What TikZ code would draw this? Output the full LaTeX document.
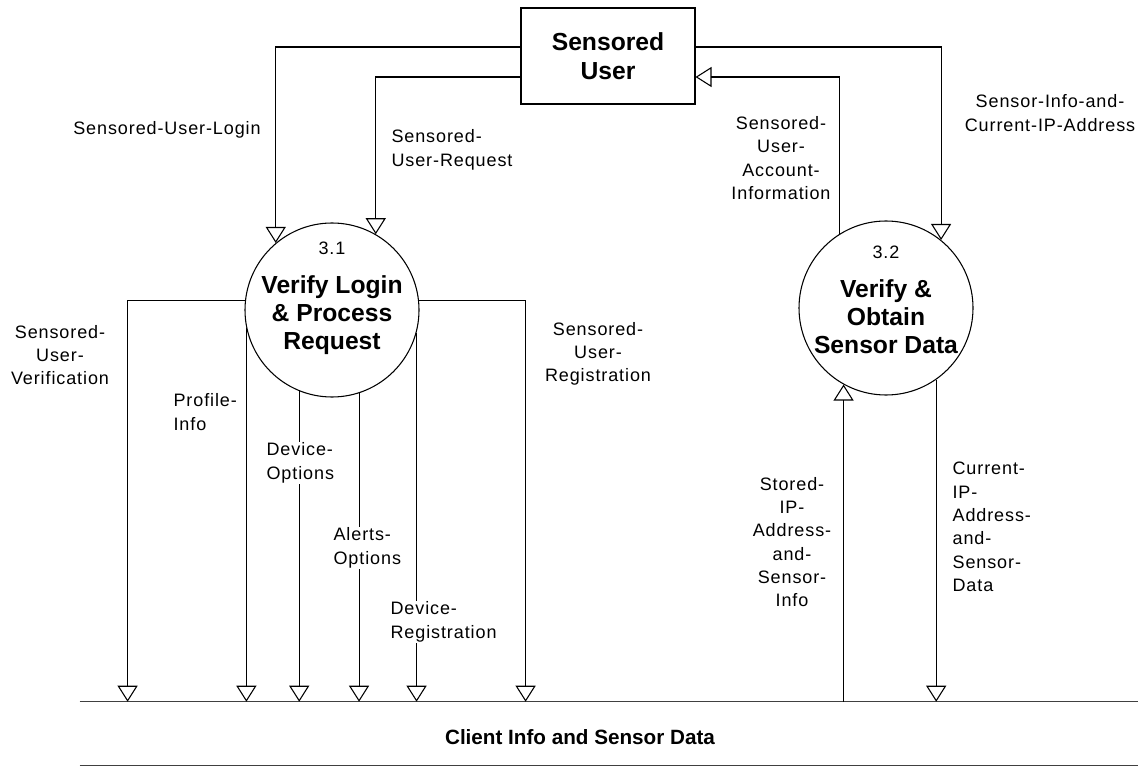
\documentclass[tikz,border=0pt]{standalone}
\usepackage{fontspec}
\setmainfont{Liberation Sans}
\newfontfamily\flowfont[LetterSpace=5]{Liberation Sans}
\usetikzlibrary{arrows.meta, calc}

\begin{document}
\begin{tikzpicture}[x = 0.75pt, y = -0.75pt,
                    flow/.style    = {draw, line width=0.8pt, -{Triangle[open, length=12pt, width=15pt]}},
                    entity/.style  = {draw, line width=0.8pt, minimum width=130.5pt, minimum height=72pt,
                                      align=center, font=\fontsize{18.5}{21.75}\selectfont\bfseries},
                    process/.style = {draw, circle, line width=0.8pt, minimum size=130.5pt, inner sep=0pt},
                    ptitle/.style  = {align=center, font=\fontsize{18.5}{21}\selectfont\bfseries},
                    pnum/.style    = {font=\flowfont\fontsize{13.5}{17.5}\selectfont},
                    flowlbl/.style = {fill=white, inner sep=1pt, font=\flowfont\fontsize{13.5}{17.5}\selectfont},
                    storeline/.style = {draw=black!75, line width=0.9pt}]

    \useasboundingbox (0,0) rectangle (1138,766);

    % external entity and processes
    \node[entity]  (user) at (608,56) {Sensored\\User};
    \node[process] (p31)  at (332,310) {};
    \node[pnum]    (p31n) at (332,248) {3.1};
    \node[ptitle]  (p31t) at (332,315) {Verify Login\\\& Process\\Request};
    \node[process] (p32)  at (886,308) {};
    \node[pnum]    (p32n) at (886,252) {3.2};
    \node[ptitle]  (p32t) at (886,317) {Verify \&\\Obtain\\Sensor Data};

    % data store
    \node[minimum width=793.5pt, minimum height=47.25pt, inner sep=0pt] (store) at (609,733.5) {};
    \draw[storeline] (store.north west) -- (store.north east)
                     (store.south west) -- (store.south east);
    \node[font=\fontsize{15.5}{18}\selectfont\bfseries] (storet) at (580,737) {Client Info and Sensor Data};

    % flows
    \draw[flow] (user.west |- 0,47) -| (p31.130);
    \draw[flow] (user.west |- 0,77) -| (p31.60);
    \draw[flow] (user.east |- 0,47) -| (p32.51);
    \draw[flow] (p32.122) |- (user.east |- 0,77);

    \draw[flow] (p31.174) -| (store.north -| 127.6,0);
    \foreach \a in {192,248,288,345}
        \draw[flow] (p31.\a) -- (p31.\a |- store.north);
    \draw[flow] (p31.6) -| (store.north -| 525.6,0);

    \draw[flow] (store.north -| p32.241) -- (p32.241);
    \draw[flow] (p32.305) -- (p32.305 |- store.north);

    % flow labels
    \node[flowlbl] (lLogin) at (167,130) {Sensored-User-Login};
    \node[flowlbl, align=left] (lReq) at (452,150) {Sensored-\\User-Request};
    \node[flowlbl, align=center] (lAcct) at (781,158) {Sensored-\\User-\\Account-\\Information};
    \node[flowlbl, align=center] (lSens) at (1050,113) {Sensor-Info-and-\\Current-IP-Address};
    \node[flowlbl, align=center] (lVerif) at (60,355) {Sensored-\\User-\\Verification};
    \node[flowlbl, align=left, anchor=west] (lProf) at (172,412) {Profile-\\Info};
    \node[flowlbl, align=left, anchor=west] (lDevOpt) at (265,463) {Device-\\Options};
    \node[flowlbl, align=left, anchor=west] (lAlert) at (332,548) {Alerts-\\Options};
    \node[flowlbl, align=left, anchor=west] (lDevReg) at (389,622) {Device-\\Registration};
    \node[flowlbl, align=center] (lReg) at (598,354) {Sensored-\\User-\\Registration};
    \node[flowlbl, align=center] (lStored) at (792,542) {Stored-\\IP-\\Address-\\and-\\Sensor-\\Info};
    \node[flowlbl, align=left, anchor=west] (lCurr) at (951,527) {Current-\\IP-\\Address-\\and-\\Sensor-\\Data};
\end{tikzpicture}
\end{document}
